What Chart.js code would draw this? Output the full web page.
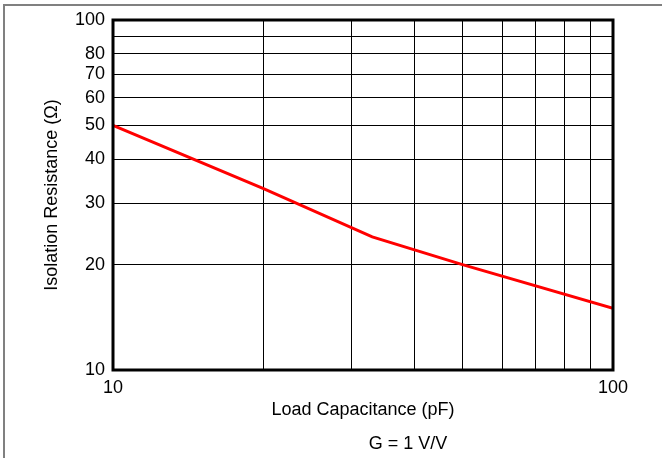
<!DOCTYPE html>
<html>
<head>
<meta charset="utf-8">
<script src="https://cdn.jsdelivr.net/npm/chart.js@4/dist/chart.umd.min.js"></script>
<style>
  body { margin: 0; background: #fff; }
</style>
</head>
<body>
<canvas id="chart" width="662" height="458"></canvas>
<script>
// Load capacitance (pF) vs isolation resistance (ohm)
const capacitance = [10, 20, 33, 50, 100];
const resistance = [50, 33, 24, 20, 15];
const gridValues = [10, 20, 30, 40, 50, 60, 70, 80, 90, 100];
const yLabels = [10, 20, 30, 40, 50, 60, 70, 80, 100];
const xLabels = [10, 100];

const font = { family: 'Liberation Sans, Arial, sans-serif', size: 18 };

const framePlugin = {
    id: 'frame',
    beforeDraw(chart) {
        const ctx = chart.ctx;
        ctx.save();
        ctx.fillStyle = '#fff';
        ctx.fillRect(0, 0, chart.width, chart.height);
        ctx.strokeStyle = '#808080';
        ctx.lineWidth = 2;
        ctx.beginPath();
        ctx.moveTo(4, chart.height);
        ctx.lineTo(4, 5);
        ctx.lineTo(chart.width, 5);
        ctx.stroke();
        ctx.restore();
    },
    afterDraw(chart) {
        const { ctx, chartArea: a } = chart;
        ctx.save();
        ctx.strokeStyle = '#000';
        ctx.lineWidth = 3;
        ctx.strokeRect(a.left, a.top, a.right - a.left, a.bottom - a.top);
        ctx.fillStyle = '#000';
        ctx.font = '18px Liberation Sans, Arial, sans-serif';
        ctx.textAlign = 'center';
        ctx.textBaseline = 'middle';
        ctx.fillText('G = 1 V/V', 408, 444);
        ctx.restore();
    }
};

const setTicks = s => { s.ticks = gridValues.map(v => ({ value: v })); };

new Chart(document.getElementById('chart'), {
    type: 'line',
    data: {
        datasets: [{
            data: capacitance.map((c, i) => ({ x: c, y: resistance[i] })),
            borderColor: '#ff0000',
            borderWidth: 3,
            pointRadius: 0,
            tension: 0,
            fill: false
        }]
    },
    options: {
        responsive: false,
        animation: false,
        layout: { padding: { left: 0, top: 20, right: 49, bottom: 0 } },
        plugins: { legend: { display: false }, tooltip: { enabled: false } },
        scales: {
            x: {
                type: 'logarithmic',
                min: 10,
                max: 100,
                afterBuildTicks: setTicks,
                afterFit: s => { s.height = 88; },
                grid: { color: '#000', lineWidth: 1, drawTicks: false },
                border: { display: false },
                ticks: {
                    color: '#000',
                    font: font,
                    padding: 7,
                    autoSkip: false,
                    maxRotation: 0,
                    callback: v => xLabels.includes(v) ? String(v) : ''
                },
                title: {
                    display: true,
                    text: 'Load Capacitance (pF)',
                    color: '#000',
                    font: font,
                    padding: { top: 0, bottom: 37 }
                }
            },
            y: {
                type: 'logarithmic',
                min: 10,
                max: 100,
                afterBuildTicks: setTicks,
                afterFit: s => { s.width = 113; },
                grid: { color: '#000', lineWidth: 1, drawTicks: false },
                border: { display: false },
                ticks: {
                    color: '#000',
                    font: font,
                    padding: 8,
                    autoSkip: false,
                    callback: v => yLabels.includes(v) ? String(v) : ''
                },
                title: {
                    display: true,
                    text: 'Isolation Resistance (Ω)',
                    color: '#000',
                    font: font,
                    padding: { top: 41, bottom: 0 }
                }
            }
        }
    },
    plugins: [framePlugin]
});
</script>
</body>
</html>
